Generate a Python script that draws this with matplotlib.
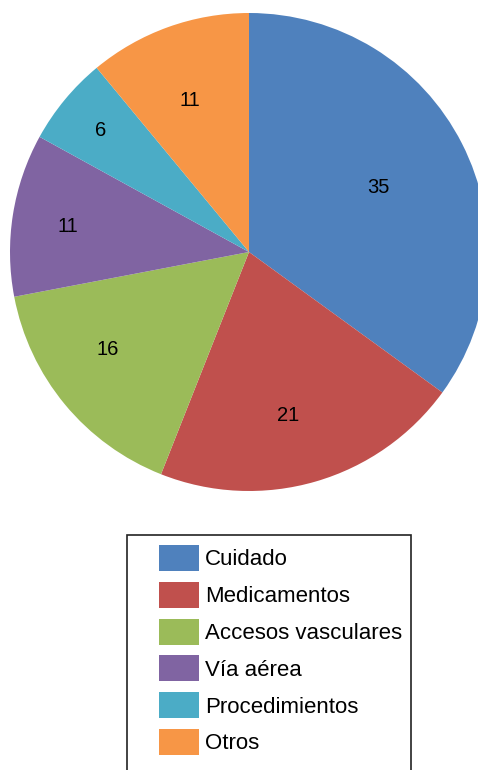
import numpy as np
import matplotlib.pyplot as plt
from matplotlib.patches import Rectangle

plt.rcParams['font.family'] = ['Liberation Sans', 'DejaVu Sans']

# Data
categories = ["Cuidado", "Medicamentos", "Accesos vasculares", "Vía aérea",
              "Procedimientos", "Otros"]
values = [35, 21, 16, 11, 6, 11]
colors = ["#4F81BD", "#C0504D", "#9BBB59", "#8064A2", "#4BACC6", "#F79646"]
# label placement (fraction of radius, angle shift in degrees), as in the original
label_dist = [0.604, 0.705, 0.718, 0.764, 0.80, 0.682]
label_shift = [-0.3, -2.8, -4.8, 1.1, 0.3, 1.4]


def main():
    fig = plt.figure(figsize=(4.78, 7.7), dpi=100)
    W, H = 478, 770
    cx, cy, r = 249, 252, 239
    ax = fig.add_axes([(cx - r) / W, (H - cy - r) / H, 2 * r / W, 2 * r / H])

    wedges, texts = ax.pie(values, colors=colors, startangle=90, counterclock=False,
                           labels=[str(v) for v in values], labeldistance=0.6,
                           wedgeprops=dict(linewidth=0), radius=1,
                           textprops=dict(fontsize=14.5, color="black"))

    # move labels to their own spots
    for w, t, d, s in zip(wedges, texts, label_dist, label_shift):
        ang = np.deg2rad((w.theta1 + w.theta2) / 2 + s)
        t.set_position((d * np.cos(ang), d * np.sin(ang)))
        t.set_ha("center")
        t.set_va("center")

    ax.set_xlim(-1, 1)
    ax.set_ylim(-1, 1)
    ax.set_aspect("equal")
    ax.axis("off")

    fs = 16
    px = fs * 100 / 72
    # handle box height = fs*h - 0.35*fs*(h-0.7) -> 26 px
    hh = (26 / px - 0.245) / 0.65
    fig.legend(wedges, categories, loc="upper left",
               bbox_to_anchor=(159 / W, 1 - 545 / H),
               fontsize=fs, frameon=False,
               handlelength=40 / px, handleheight=hh,
               labelspacing=(36.8 - 26) / px, borderpad=0,
               handletextpad=6 / px, borderaxespad=0)

    # legend frame (runs off the bottom of the figure, like the original)
    fig.add_artist(Rectangle((127 / W, -0.02), (411 - 127) / W, 1 - 535 / H + 0.02,
                             transform=fig.transFigure, fill=False,
                             edgecolor="#222222", linewidth=1.2))

    fig.savefig("out.png", dpi=100)


if __name__ == "__main__":
    main()
